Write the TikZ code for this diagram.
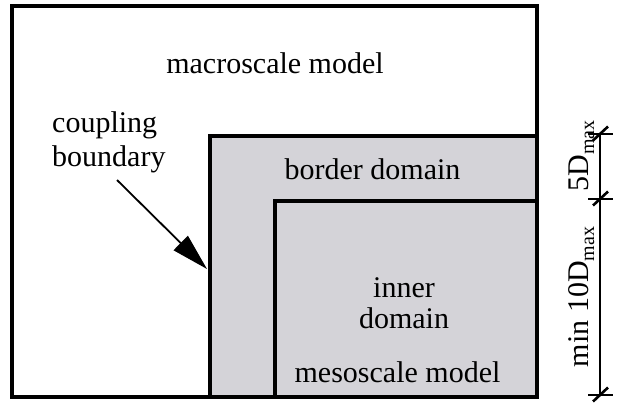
\documentclass[tikz,border=0pt]{standalone}
\usepackage{fontspec}
\setmainfont{Liberation Serif}
\usetikzlibrary{arrows.meta}
\definecolor{domgray}{HTML}{D4D3D8}
% subscript "max" for the dimension labels
\newcommand{\dmaxsub}{\raisebox{-6pt}{\fontsize{20}{20}\selectfont max}}
\begin{document}
\begin{tikzpicture}[x=1pt,y=-1pt,
  box/.style={draw=black,line width=4pt,inner sep=0pt,anchor=north west},
  lbl/.style={font=\fontsize{30}{31}\selectfont,inner sep=0pt},
  dimline/.style={line width=1.2pt},
  tick/.style={line width=2.6pt}]
\useasboundingbox (0,0) rectangle (617,405);
% model boxes
\node[box,fill=white,minimum width=525pt,minimum height=391pt] (macro) at (10,4) {};
\node[box,fill=domgray,minimum width=327pt,minimum height=261pt] (border) at (208,134) {};
\node[box,fill=domgray,minimum width=262pt,minimum height=196pt] (inner) at (273,199) {};
% labels
\node[lbl,anchor=base] (tmacro) at (275,73) {macroscale model};
\node[lbl,anchor=base west] (tcoup) at (52,132) {coupling};
\node[lbl,anchor=base west] (tbound) at (52,166) {boundary};
\node[lbl,anchor=base] (tborder) at (372.5,179) {border domain};
\node[lbl,anchor=base] (tinner) at (404,297) {inner};
\node[lbl,anchor=base] (tdomain) at (404,328) {domain};
\node[lbl,anchor=base] (tmeso) at (397.5,382) {mesoscale model};
% pointer to the coupling boundary
\coordinate (bstart) at (117,180);
\coordinate (btip) at (207,269);
\draw[line width=1.8pt,-{Triangle[length=37pt,width=20pt]}] (bstart) -- (btip);
% dimension chain
\coordinate (d1) at (600,134);
\coordinate (d2) at (600,199);
\coordinate (d3) at (600,395);
\draw[dimline] (d1) -- (d3);
\foreach \p in {d1,d2,d3}{
  \draw[line width=1.4pt] ([xshift=-12pt]\p) -- ([xshift=13pt]\p);
  \draw[tick] ([xshift=-7pt,yshift=-6.5pt]\p) -- ([xshift=8pt,yshift=7.5pt]\p);
}
\node[lbl,rotate=90,anchor=base] (t5d) at (588,156) {5D\dmaxsub};
\node[lbl,rotate=90,anchor=base] (t10d) at (588,297) {min 10D\dmaxsub};
\end{tikzpicture}
\end{document}
